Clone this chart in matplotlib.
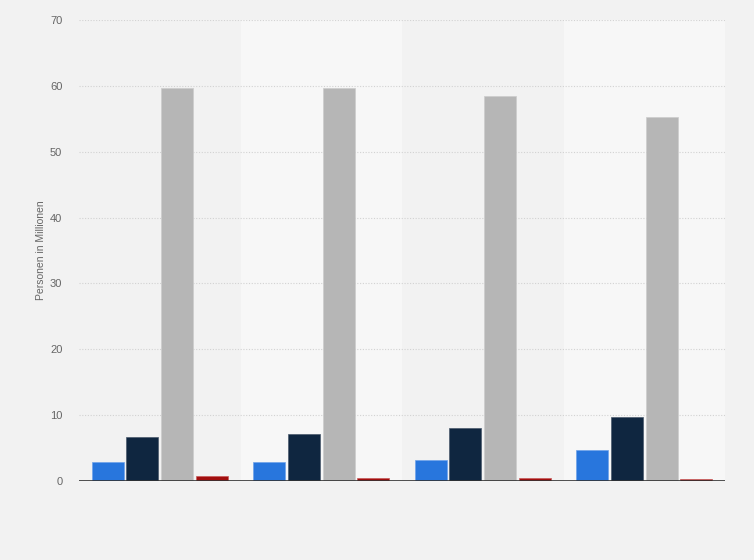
import matplotlib
matplotlib.use("Agg")
import matplotlib.pyplot as plt
import numpy as np

plt.rcParams["font.family"] = ["Liberation Sans", "DejaVu Sans"]

groups = ["", "", "", ""]
series_names = ["A", "B", "C", "D"]
values = {
    "A": [2.9, 2.9, 3.2, 4.7],
    "B": [6.7, 7.1, 8.0, 9.7],
    "C": [59.6, 59.6, 58.4, 55.3],
    "D": [0.7, 0.5, 0.38, 0.25],
}
colors = ["#2876dd", "#0f2640", "#b6b6b6", "#a10e0e"]
edges = ["#6fa3ea", "#4a5a6c", "#cccccc", "#c85a5a"]
yticks = [0, 10, 20, 30, 40, 50, 60, 70]

fig = plt.figure(figsize=(7.54, 5.6), dpi=100)
fig.patch.set_facecolor("#f2f2f2")
ax = fig.add_axes([79/754, 1-481/560, (725-79)/754, (481-20)/560])
ax.set_facecolor("#f2f2f2")

n = len(groups)
x = np.arange(n)
for i in range(n):
    if i % 2 == 1:
        ax.axvspan(i-0.5, i+0.5, color="#f7f7f7", zorder=0, lw=0)

slot = 0.215
bw = 0.198
for k, name in enumerate(series_names):
    off = (k - 1.5) * slot
    ax.bar(x + off, values[name], width=bw, color=colors[k],
           edgecolor=edges[k], linewidth=0.5, zorder=3)

ax.set_xlim(-0.5, n-0.5)
ax.set_ylim(0, 70)
ax.set_yticks(yticks)
ax.set_xticks([])
for t in yticks[1:]:
    ax.axhline(t, color="#d2d2d2", lw=0.8, ls=(0, (1, 1.5)), zorder=1)
ax.axhline(0, color="#333333", lw=1.2, zorder=4)
for s in ax.spines.values():
    s.set_visible(False)
ax.tick_params(axis="y", length=0, labelsize=8, labelcolor="#666666", pad=12)
ax.set_ylabel("Personen in Millionen", fontsize=7.5, color="#666666", labelpad=3)

fig.savefig("out.png", dpi=100, facecolor=fig.get_facecolor())
